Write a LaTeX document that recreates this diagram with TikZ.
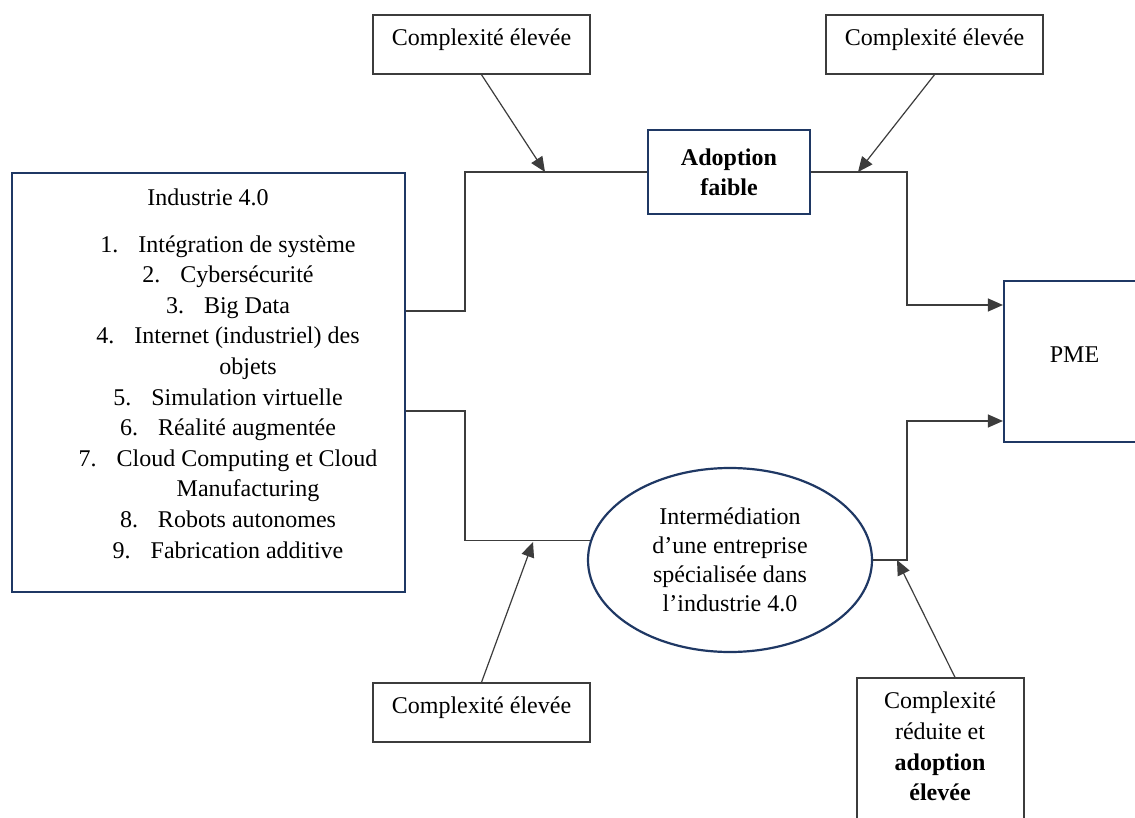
\documentclass[tikz,border=0pt]{standalone}
\usepackage{fontspec}
\setmainfont{Liberation Serif}
\usetikzlibrary{arrows.meta,shapes.geometric}
\definecolor{navy}{HTML}{1F3864}
\definecolor{lgray}{HTML}{3C3C3C}
\begin{document}
\begin{tikzpicture}[x=1pt,y=-1pt,
  every node/.style={font=\fontsize{24}{30.6}\selectfont, inner sep=0pt},
  cbox/.style={draw=lgray, line width=1.4pt, fill=white, minimum width=217pt, minimum height=59pt, text depth=14pt},
  nbox/.style={draw=navy, line width=2.2pt, fill=white},
  conn/.style={draw=lgray, line width=1.2pt},
  arr/.style={conn, -{Triangle[length=15pt,width=13pt]}}]
\clip (0,0) rectangle (1135,818);
\fill[white] (0,0) rectangle (1135,818);

% main boxes
\node[nbox, minimum width=393pt, minimum height=419pt] (ind) at (208.5,382.5) {};
\node (indtitle) at (208,197) {Industrie 4.0};
\node[align=center] (indlist) at (228,397) {1.\hspace{20pt}Intégration de système\\
2.\hspace{20pt}Cybersécurité\\
3.\hspace{20pt}Big Data\\
4.\hspace{20pt}Internet (industriel) des\\
\hspace*{40pt}objets\\
5.\hspace{20pt}Simulation virtuelle\\
6.\hspace{20pt}Réalité augmentée\\
7.\hspace{20pt}Cloud Computing et Cloud\\
\hspace*{40pt}Manufacturing\\
8.\hspace{20pt}Robots autonomes\\
9.\hspace{20pt}Fabrication additive};

\node[nbox, minimum width=162pt, minimum height=84pt, align=center, font=\fontsize{24}{30}\selectfont\bfseries] (adopt) at (729,172) {Adoption\\faible};
\node[nbox, minimum width=141pt, minimum height=161pt, text depth=14pt] (pme) at (1074.5,361.5) {PME};
\node[ellipse, draw=navy, line width=2.2pt, fill=white, minimum width=284pt, minimum height=184pt, align=center, font=\fontsize{24}{29}\selectfont] (ell) at (730,560) {Intermédiation\\d’une entreprise\\spécialisée dans\\l’industrie 4.0};

% complexity boxes
\node[cbox] (c1) at (481.5,44.5) {Complexité élevée};
\node[cbox] (c2) at (934.5,44.5) {Complexité élevée};
\node[cbox] (c3) at (481.5,712.5) {Complexité élevée};
\node[cbox, minimum width=167pt, minimum height=152pt] (c4) at (940.5,754) {};
\node[align=center] (c4t) at (940,746.5) {Complexité\\réduite et\\\textbf{adoption}\\\textbf{élevée}};

% connectors
\draw[conn] (ind.east |- 0,311) -- (465,311) |- (adopt.west);
\draw[arr] (adopt.east) -- (907,172) |- (pme.west |- 0,305);
\draw[conn] (ind.east |- 0,411) -- (465,411) |- (ell.172.6);
\draw[arr] (ell.east) -| (907,421) -- (pme.west |- 0,421);

\coordinate (j1) at (545,172);
\coordinate (j2) at (858,172);
\coordinate (j3) at (533,542);
\coordinate (j4) at (897,560);
\draw[arr] (c1.south) -- (j1);
\draw[arr] (c2.south) -- (j2);
\draw[arr] (c3.north) -- (j3);
\draw[arr] (c4.north -| 955,0) -- (j4);
\end{tikzpicture}
\end{document}
